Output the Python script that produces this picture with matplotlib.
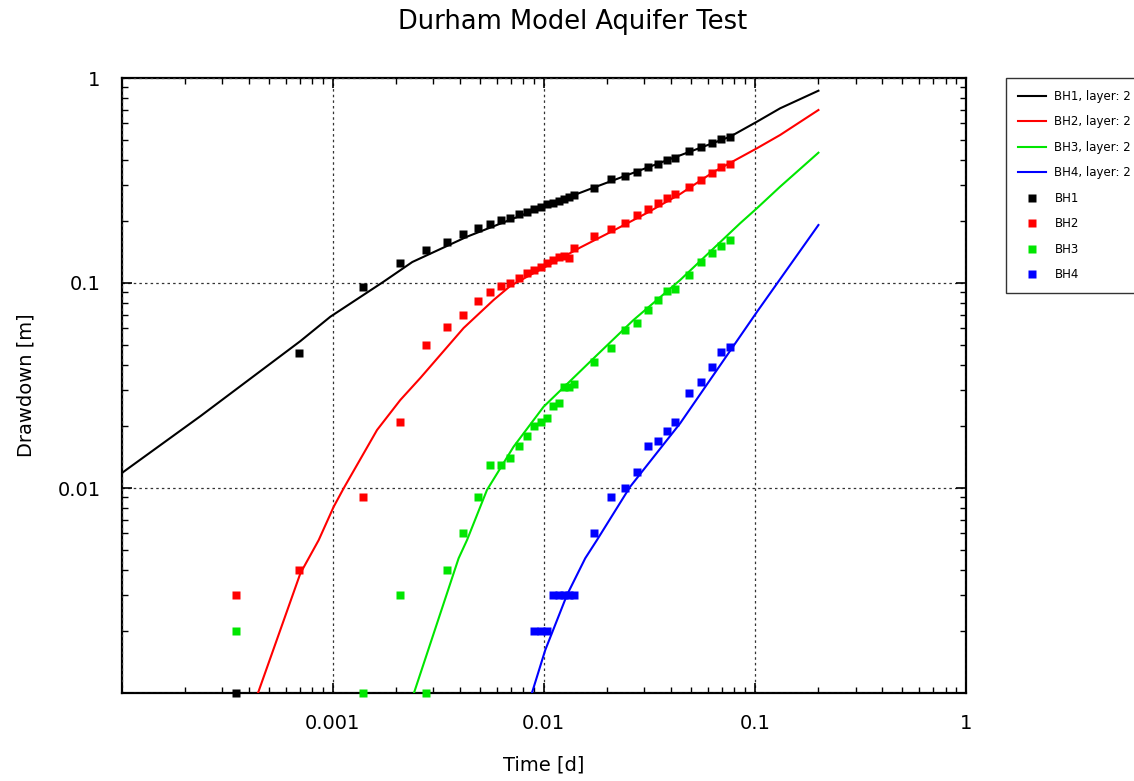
import numpy as np
import matplotlib
matplotlib.use("Agg")
import matplotlib.pyplot as plt
from matplotlib.ticker import FixedLocator, NullFormatter, FixedFormatter

# ---------------- data ----------------
time_min = [0.5, 1, 2, 3, 4, 5, 6, 7, 8, 9, 10, 11, 12, 13, 14, 15, 16, 17, 18, 19, 20,
            25, 30, 35, 40, 45, 50, 55, 60, 70, 80, 90, 100, 110]
time_days = np.array(time_min) / 1440.0

bh1_obs = [0.001, 0.0457, 0.0951, 0.1256, 0.1449, 0.159, 0.1738, 0.1861, 0.194, 0.2029,
           0.2083, 0.2171, 0.2228, 0.2296, 0.2356, 0.242, 0.2464, 0.252, 0.2569, 0.2636,
           0.2687, 0.2917, 0.3217, 0.3327, 0.3479, 0.3667, 0.3819, 0.3981, 0.4085, 0.4389,
           0.4607, 0.4835, 0.5023, 0.5155]
bh2_obs = [0.003, 0.004, 0.009, 0.021, 0.050, 0.0612, 0.070, 0.0814, 0.0907, 0.0967,
           0.0997, 0.1054, 0.1115, 0.1157, 0.1203, 0.1248, 0.1302, 0.1344, 0.1354, 0.1320,
           0.1474, 0.1686, 0.1834, 0.1968, 0.2146, 0.2296, 0.2464, 0.2607, 0.2708, 0.2930,
           0.3181, 0.3427, 0.3667, 0.3805]
bh3_obs = [0.002, np.nan, 0.001, 0.003, 0.001, 0.004, 0.006, 0.009, 0.013, 0.013,
           0.014, 0.016, 0.018, 0.020, 0.021, 0.022, 0.025, 0.026, 0.031, 0.031,
           0.032, 0.041, 0.048, 0.059, 0.064, 0.074, 0.083, 0.091, 0.094, 0.110,
           0.126, 0.140, 0.152, 0.162]
bh4_obs = [np.nan, np.nan, np.nan, np.nan, np.nan, np.nan, np.nan, np.nan, np.nan, np.nan,
           np.nan, np.nan, np.nan, 0.002, 0.002, 0.002, 0.003, 0.003, 0.003, 0.003,
           0.003, 0.006, 0.009, 0.010, 0.012, 0.016, 0.017, 0.019, 0.021, 0.029,
           0.033, 0.039, 0.046, 0.049]

bh1_model_t = [1.0e-4, 2.37e-4, 7.04e-4, 9.76e-4, 1.744e-3, 2.385e-3, 4.33e-3, 9.98e-3,
               1.721e-2, 7.63e-2, 0.1022, 0.1317, 0.2]
bh1_model_s = [0.0118, 0.02245, 0.0521, 0.0685, 0.1015, 0.1266, 0.1682, 0.2356,
               0.2917, 0.5172, 0.6118, 0.7114, 0.867]

bh2_model_t = [4.40e-4, 7.035e-4, 8.59e-4, 1.0116e-3, 1.128e-3, 1.623e-3, 2.092e-3, 2.602e-3,
               4.172e-3, 5.786e-3, 6.94e-3, 8.63e-3, 1.0356e-2, 1.489e-2, 2.14e-2, 3.08e-2,
               4.427e-2, 6.365e-2, 0.1022, 0.1317, 0.2]
bh2_model_s = [0.00098, 0.003836, 0.00557, 0.0081, 0.00997, 0.01918, 0.02687, 0.0344,
               0.0603, 0.08262, 0.0967, 0.1094, 0.121, 0.149, 0.1803, 0.2196,
               0.2717, 0.3479, 0.454, 0.5272, 0.698]

bh3_model_t = [2.42e-3, 3.951e-3, 4.33e-3, 5.383e-3, 7.196e-3, 9.98e-3, 1.786e-2, 2.661e-2,
               3.435e-2, 4.427e-2, 8.51e-2, 0.1022, 0.1317, 0.2]
bh3_model_s = [0.00099, 0.00454, 0.00557, 0.00978, 0.0159, 0.0249, 0.0445, 0.066,
               0.0826, 0.1034, 0.1955, 0.2314, 0.295, 0.4321]

bh4_model_t = [8.79e-3, 1.0165e-2, 1.288e-2, 1.572e-2, 1.786e-2, 2.567e-2, 4.427e-2, 0.1022, 0.2]
bh4_model_s = [0.001, 0.00162, 0.003006, 0.004541, 0.00557, 0.01015, 0.02068, 0.0722, 0.1918]

series_names = ["BH1", "BH2", "BH3", "BH4"]
colors = ["#000000", "#ff0000", "#00e600", "#0000ff"]

x_tick_vals = [1e-4, 1e-3, 1e-2, 1e-1, 1]
x_tick_labels = ["", "0.001", "0.01", "0.1", "1"]
y_tick_vals = [1e-3, 1e-2, 1e-1, 1]
y_tick_labels = ["", "0.01", "0.1", "1"]

# ---------------- figure ----------------
W, H = 1134, 781
fig = plt.figure(figsize=(W / 100, H / 100), dpi=100)
ax = fig.add_axes([121.5 / W, 1 - 693 / H, (966 - 121.5) / W, (693 - 78) / H])

models = [(bh1_model_t, bh1_model_s), (bh2_model_t, bh2_model_s),
          (bh3_model_t, bh3_model_s), (bh4_model_t, bh4_model_s)]
obs = [bh1_obs, bh2_obs, bh3_obs, bh4_obs]

for (mt, ms), name, c in zip(models, series_names, colors):
    ax.plot(mt, ms, color=c, lw=1.5, label=f"{name}, layer: 2", zorder=3,
            solid_joinstyle="round")
for o, name, c in zip(obs, series_names, colors):
    ax.plot(time_days, o, ls="none", marker="s", ms=5.5, mec="none", mfc=c,
            label=name, zorder=4, clip_on=False)

ax.set_xscale("log")
ax.set_yscale("log")
ax.set_xlim(1e-4, 1)
ax.set_ylim(1e-3, 1)

ax.xaxis.set_major_locator(FixedLocator(x_tick_vals))
ax.xaxis.set_major_formatter(FixedFormatter(x_tick_labels))
ax.yaxis.set_major_locator(FixedLocator(y_tick_vals))
ax.yaxis.set_major_formatter(FixedFormatter(y_tick_labels))
xminor = [m * 10.0 ** e for e in range(-4, 0) for m in range(2, 10)]
yminor = [m * 10.0 ** e for e in range(-3, 0) for m in range(2, 10)]
ax.xaxis.set_minor_locator(FixedLocator(xminor))
ax.yaxis.set_minor_locator(FixedLocator(yminor))
ax.xaxis.set_minor_formatter(NullFormatter())
ax.yaxis.set_minor_formatter(NullFormatter())

ax.tick_params(which="both", direction="in", top=True, right=True, colors="black",
               labelsize=14)
ax.tick_params(which="major", length=7, width=1.2, pad=15)
ax.tick_params(which="minor", length=4, width=1.0)
for s in ax.spines.values():
    s.set_linewidth(1.6)

ax.grid(True, which="major", color="#333333", ls=(0, (2, 2.5)), lw=0.9)
ax.set_axisbelow(False)

ax.set_xlabel("Time [d]", fontsize=14, labelpad=16)
ax.set_ylabel("Drawdown [m]", fontsize=14, labelpad=16)

fig.text(573 / W, 1 - 22 / H, "Durham Model Aquifer Test", ha="center", va="center",
         fontsize=18.5)

leg = fig.legend(loc="upper left", bbox_to_anchor=(1006 / W, 1 - 78 / H),
                 bbox_transform=fig.transFigure, fontsize=8.5, frameon=True,
                 fancybox=False, edgecolor="black", handlelength=2.4,
                 labelspacing=1.06, borderpad=1.0, handletextpad=0.7,
                 borderaxespad=0)
leg.get_frame().set_linewidth(1.0)

fig.savefig("out.png", dpi=100)
